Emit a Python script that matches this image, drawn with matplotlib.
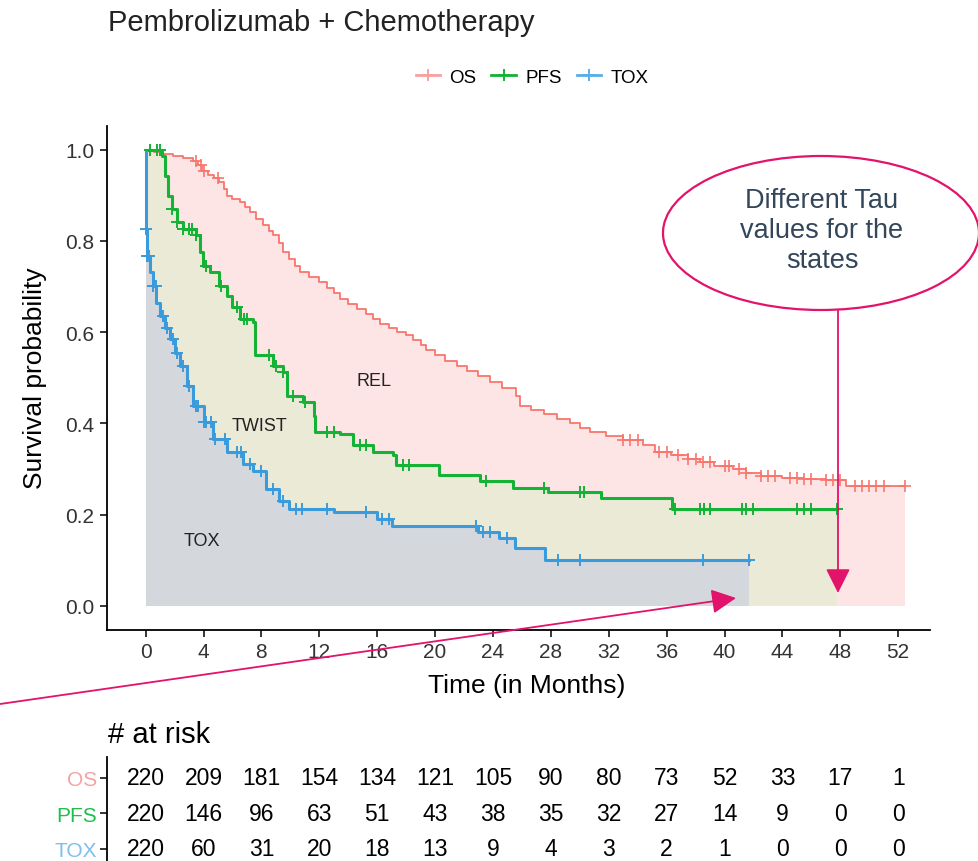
import numpy as np
import matplotlib
matplotlib.use("Agg")
import matplotlib.pyplot as plt
from matplotlib.lines import Line2D
from matplotlib.patches import Ellipse, FancyArrowPatch

plt.rcParams['font.family'] = ['Liberation Sans', 'DejaVu Sans']

# Kaplan-Meier steps (months, survival after the step)
os_t = [0, 0.6, 1.2, 1.9, 2.6, 3.3, 3.6, 3.9, 4.3, 4.7, 5.1, 5.4, 5.6, 6.0, 6.5,
        6.9, 7.2, 7.6, 8.1, 8.5, 8.8, 9.2, 9.5, 9.9, 10.3, 10.7, 11.3, 12.0, 12.5,
        13.0, 13.4, 14.0, 14.6, 15.2, 15.7, 16.2, 16.8, 17.4, 18.0, 18.5, 19.0,
        19.4, 20.0, 20.7, 21.5, 22.2, 23.0, 23.8, 24.6, 25.6, 25.9, 26.6, 27.5,
        28.4, 29.3, 30.0, 30.7, 31.8, 33.0, 34.4, 35.2, 36.3, 37.5, 38.3, 39.3,
        40.6, 41.5, 42.5, 44.0, 45.5, 47.0, 48.4]
os_s = [1.0, 0.995, 0.991, 0.987, 0.982, 0.976, 0.967, 0.954, 0.945, 0.937, 0.929,
        0.915, 0.899, 0.892, 0.885, 0.874, 0.863, 0.849, 0.834, 0.822, 0.812,
        0.795, 0.775, 0.76, 0.745, 0.731, 0.72, 0.710, 0.697, 0.685, 0.673, 0.662,
        0.651, 0.64, 0.629, 0.618, 0.609, 0.601, 0.593, 0.583, 0.572, 0.560,
        0.549, 0.538, 0.527, 0.515, 0.503, 0.491, 0.477, 0.461, 0.439, 0.43, 0.42,
        0.410, 0.40, 0.39, 0.381, 0.372, 0.363, 0.352, 0.337, 0.33, 0.322, 0.315,
        0.307, 0.30, 0.292, 0.285, 0.281, 0.278, 0.275, 0.262]
os_end = 52.5

pfs_t = [0, 1.1, 1.33, 1.56, 1.8, 2.14, 2.6, 3.5, 3.75, 3.98, 4.44, 5.1, 5.6, 6.0,
         6.5, 7.4, 7.55, 8.8, 9.5, 9.74, 10.9, 11.6, 11.7, 13.4, 14.35, 15.7, 17.1,
         17.3, 20.3, 23.1, 25.4, 27.8, 31.5, 36.4]
pfs_s = [1.0, 0.987, 0.943, 0.899, 0.870, 0.841, 0.826, 0.812, 0.775, 0.746, 0.731,
         0.702, 0.680, 0.655, 0.629, 0.622, 0.549, 0.527, 0.512, 0.461, 0.447,
         0.417, 0.381, 0.377, 0.352, 0.337, 0.330, 0.308, 0.288, 0.273, 0.258,
         0.250, 0.236, 0.212]
pfs_end = 47.8

tox_t = [0, 0.02, 0.07, 0.3, 0.5, 0.75, 1.0, 1.35, 1.7, 2.0, 2.37, 2.83, 3.3, 4.0,
         4.67, 5.6, 6.75, 7.4, 8.3, 9.2, 9.9, 13.0, 16.0, 17.0, 23.0, 24.4, 25.5,
         27.6]
tox_s = [1.0, 0.826, 0.768, 0.731, 0.702, 0.665, 0.636, 0.61, 0.585, 0.555, 0.527,
         0.483, 0.439, 0.403, 0.366, 0.337, 0.312, 0.295, 0.257, 0.229, 0.213,
         0.207, 0.191, 0.176, 0.163, 0.150, 0.127, 0.101]
tox_end = 41.7

# censoring times
os_cens = [3.5, 3.8, 4.0, 5.0, 33.0, 33.5, 34.0, 35.5, 36.0, 36.8, 37.5, 38.0,
           38.5, 39.0, 40.0, 40.3, 41.0, 41.5, 42.5, 43.0, 43.5, 44.5, 45.0, 45.5,
           46.0, 47.0, 47.5, 48.0, 49.0, 49.5, 50.0, 50.5, 51.0, 52.5]
pfs_cens = [0.3, 0.8, 1.0, 1.8, 2.2, 2.6, 3.0, 3.2, 3.5, 4.2, 5.2, 6.3, 6.8, 7.0,
            8.5, 9.0, 9.5, 10.2, 11.0, 12.5, 13.0, 14.8, 15.2, 17.8, 18.2, 23.5,
            27.5, 30.0, 30.3, 36.6, 38.3, 38.6, 39.0, 41.2, 41.5, 42.0, 45.0, 45.5,
            46.0, 47.8]
tox_cens = [0.04, 0.1, 0.25, 0.5, 0.7, 1.2, 1.5, 1.9, 2.2, 2.6, 3.0, 3.5, 3.6, 4.0,
            4.2, 4.5, 4.8, 5.5, 6.3, 6.6, 7.2, 8.0, 8.8, 9.5, 10.4, 10.8, 12.5,
            15.2, 16.3, 16.8, 22.8, 23.3, 23.8, 25.0, 28.5, 30.0, 38.5, 41.7]

risk_times = [0, 4, 8, 12, 16, 20, 24, 28, 32, 36, 40, 44, 48, 52]
risk_os = [220, 209, 181, 154, 134, 121, 105, 90, 80, 73, 52, 33, 17, 1]
risk_pfs = [220, 146, 96, 63, 51, 43, 38, 35, 32, 27, 14, 9, 0, 0]
risk_tox = [220, 60, 31, 20, 18, 13, 9, 4, 3, 2, 1, 0, 0, 0]

c_os, c_pfs, c_tox = '#F8766D', '#14B235', '#3A9BDC'
f_os, f_pfs, f_tox = '#FDE5E5', '#EBEAD7', '#D4D7DC'


def steps(t, s, end):
    x = np.append(t, end)
    y = np.append(s, s[-1])
    return x, y


def at(t, s, c):
    idx = np.searchsorted(t, c, side='right') - 1
    return np.asarray(s)[idx]


fig = plt.figure(figsize=(9.79, 8.62), dpi=100)
W, H = 979, 862
ax = fig.add_axes([107 / W, (H - 631) / H, (930 - 107) / W, (631 - 127) / H])

ox, oy = steps(os_t, os_s, os_end)
px, py = steps(pfs_t, pfs_s, pfs_end)
tx, ty = steps(tox_t, tox_s, tox_end)

ax.fill_between(ox, 0, oy, step='post', color=f_os, lw=0)
ax.fill_between(px, 0, py, step='post', color=f_pfs, lw=0)
ax.fill_between(tx, 0, ty, step='post', color=f_tox, lw=0)

ax.plot(ox, oy, drawstyle='steps-post', color=c_os, lw=1.3)
ax.plot(px, py, drawstyle='steps-post', color=c_pfs, lw=2.2)
ax.plot(tx, ty, drawstyle='steps-post', color=c_tox, lw=2.2)

ax.plot(os_cens, at(os_t, os_s, os_cens), '+', color=c_os, ms=8, mew=1.2)
ax.plot(pfs_cens, at(pfs_t, pfs_s, pfs_cens), '+', color=c_pfs, ms=8, mew=1.4)
ax.plot(tox_cens, at(tox_t, tox_s, tox_cens), '+', color=c_tox, ms=8, mew=1.4)

ax.text(15.8, 0.495, 'REL', fontsize=13, ha='center', va='center', color='#222222')
ax.text(7.9, 0.396, 'TWIST', fontsize=13, ha='center', va='center', color='#222222')
ax.text(3.9, 0.143, 'TOX', fontsize=13, ha='center', va='center', color='#222222')

ax.set_xlim(-2.67, 54.2)
ax.set_ylim(-0.0527, 1.052)
ax.set_xticks(risk_times)
ax.set_yticks([0, 0.2, 0.4, 0.6, 0.8, 1.0])
ax.set_yticklabels(['0.0', '0.2', '0.4', '0.6', '0.8', '1.0'])
for sp in ['top', 'right']:
    ax.spines[sp].set_visible(False)
for sp in ['left', 'bottom']:
    ax.spines[sp].set_linewidth(1.3)
ax.tick_params(labelsize=15, length=5, width=1.1, pad=4, labelcolor='#333333')

fig.text(35 / W, 1 - 378 / H, 'Survival probability', rotation=90,
         ha='center', va='center', fontsize=19)
fig.text(527 / W, 1 - 686 / H, 'Time (in Months)', ha='center', va='center', fontsize=19)
fig.text(108 / W, 1 - 31 / H, 'Pembrolizumab + Chemotherapy', fontsize=21,
         va='baseline', color='#222222')

handles = [Line2D([], [], color=c, marker='+', ms=9, mew=1.4, lw=2) for c in
           ['#F9A0A0', c_pfs, '#5AAEE8']]
fig.legend(handles, ['OS', 'PFS', 'TOX'], loc='center', ncol=3, frameon=False,
           bbox_to_anchor=(532 / W, 1 - 78 / H), fontsize=13.5, handlelength=1.3,
           handletextpad=0.5, columnspacing=0.8)

# number at risk table
tb = fig.add_axes([107 / W, 0, (930 - 107) / W, (862 - 758) / H])
tb.set_xlim(ax.get_xlim())
tb.set_ylim(-0.338, 2.59)
for row, vals in enumerate([risk_tox, risk_pfs, risk_os]):
    for t, v in zip(risk_times, vals):
        tb.text(t, row, str(v), ha='center', va='center', fontsize=16.5)
tb.set_yticks([0, 1, 2])
tb.set_yticklabels(['TOX', 'PFS', 'OS'])
for lab, c in zip(tb.get_yticklabels(), ['#7CC0EA', '#1DBE4E', '#F4A3A3']):
    lab.set_color(c)
tb.set_xticks([])
for sp in ['top', 'right', 'bottom']:
    tb.spines[sp].set_visible(False)
tb.spines['left'].set_linewidth(1.3)
tb.tick_params(axis='y', labelsize=15, length=5, width=1.1, pad=2)
tb.patch.set_alpha(0)
fig.text(108 / W, 1 - 743 / H, '# at risk', fontsize=21, va='baseline')

# annotation overlay in pixel coordinates
ov = fig.add_axes([0, 0, 1, 1], zorder=5)
ov.set_xlim(0, W)
ov.set_ylim(H, 0)
ov.axis('off')
ov.patch.set_alpha(0)
pink = '#E3126A'
ov.add_patch(Ellipse((821, 234), 316, 154, fill=False, ec=pink, lw=1.6))
ov.text(822, 231, 'Different Tau\nvalues for the\nstates', ha='center', va='center',
        fontsize=19.5, color='#34465A', linespacing=1.2)
ov.add_patch(FancyArrowPatch((838, 311), (838, 594), arrowstyle='-|>,head_length=10,head_width=5',
                             color=pink, lw=1.3, mutation_scale=1.5, shrinkA=0, shrinkB=0))
ov.add_patch(FancyArrowPatch((0, 705), (736, 599), arrowstyle='-|>,head_length=10,head_width=5',
                             color=pink, lw=1.3, mutation_scale=1.5, shrinkA=0, shrinkB=0))

fig.savefig('out.png', dpi=100)
